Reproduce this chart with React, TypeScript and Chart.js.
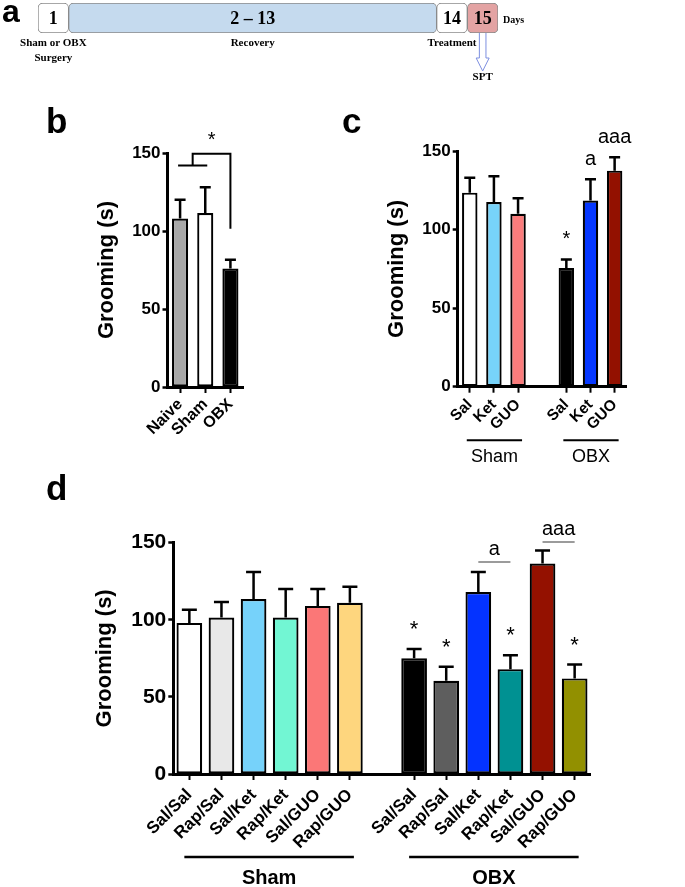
import React, { useEffect, useRef } from 'react';
import { Chart, registerables } from 'chart.js';

Chart.register(...registerables);

const SANS = "'Liberation Sans', Arial, sans-serif";
const SERIF = "'Liberation Serif', 'Times New Roman', serif";

// ---------- Panel a: timeline ----------
const phaseLabels = ['1', '2 – 13', '14', '15'];
const phaseStart = [0.5, 1.5, 13.5, 14.5];
const phaseEnd = [1.5, 13.5, 14.5, 15.5];
const phaseColors = ['#ffffff', '#c5daee', '#ffffff', '#e3a3a3'];
const phaseNotes: string[][] = [['Sham or OBX', 'Surgery'], ['Recovery'], ['Treatment'], []];
const sptDay = 15;
const sptLabel = 'SPT';
const daysLabel = 'Days';

// ---------- Panel b ----------
const bLabels = ['Naive', 'Sham', 'OBX'];
const bMeans = [108, 111.5, 76];
const bErrTop = [120, 128, 81.5];
const bColors = ['#a8a8a8', '#ffffff', '#000000'];
const bPairLevel = 142;
const bBracketTop = 149.5;
const bBracketDrop = 101.5;
const bBracketMark = '*';

// ---------- Panel c ----------
const cLabels = ['Sal', 'Ket', 'GUO', '', 'Sal', 'Ket', 'GUO'];
const cMeans = [123.5, 117.5, 110, null, 75.5, 118.5, 137.5];
const cErrTop = [133, 134, 120, null, 81, 132, 146];
const cColors = ['#ffffff', '#77d3fa', '#fb7c7c', '#000000', '#000000', '#0638ff', '#931100'];
const cMarks = ['', '', '', '', '*', 'a', 'aaa'];
const cGroupNames = ['Sham', 'OBX'];
const cGroupStart = [0, 4];
const cGroupEnd = [2, 6];

// ---------- Panel d ----------
const dLabels = ['Sal/Sal', 'Rap/Sal', 'Sal/Ket', 'Rap/Ket', 'Sal/GUO', 'Rap/GUO', '',
  'Sal/Sal', 'Rap/Sal', 'Sal/Ket', 'Rap/Ket', 'Sal/GUO', 'Rap/GUO'];
const dMeans = [98, 101.5, 113.5, 101.5, 109, 111, null, 75, 60.5, 118, 68, 136.5, 62];
const dErrTop = [106.5, 111.5, 131, 120, 120, 121.5, null, 81, 69.5, 131, 77, 145, 71];
const dColors = ['#ffffff', '#e8e8e8', '#76d2fa', '#72f6d3', '#fb7777', '#fed67e', '#000000',
  '#000000', '#5e5e5e', '#0433ff', '#009192', '#941100', '#929000'];
const dStars = ['', '', '', '', '', '', '', '*', '*', '', '*', '', '*'];
const dPairFrom = [9, 11];
const dPairTo = [10, 12];
const dPairLevel = [137.5, 150.5];
const dPairText = ['a', 'aaa'];
const dGroupNames = ['Sham', 'OBX'];
const dGroupStart = [0, 7];
const dGroupEnd = [5, 12];

const yTicks = [0, 50, 100, 150];
const yTitle = 'Grooming (s)';

type Box = { x: number; y: number; w: number; h: number };
type Area = { left: number; right: number; top: number; bottom: number };

interface BarPanel {
  box: Box;
  area: Area;
  titleX: number;
  labels: string[];
  means: (number | null)[];
  errTop: (number | null)[];
  colors: string[];
  yTickSize: number;
  xTickSize: number;
  xTickPad: number;
  barPct: number;
  capW: number;
  letter: string;
  letterPos: [number, number];
  extra?: (ctx: CanvasRenderingContext2D, px: (i: number) => number, py: (v: number) => number, chart: any) => void;
}

function buildBarChart(canvas: HTMLCanvasElement, p: BarPanel): Chart {
  const titleSize = 22;
  const lh = titleSize * 1.2;
  const padLeft = p.titleX - lh / 2 - p.box.x;
  const yWidth = p.area.left - p.box.x - padLeft;
  const padTop = p.area.top - p.box.y;
  const padRight = p.box.x + p.box.w - p.area.right;
  const xHeight = p.box.y + p.box.h - p.area.bottom;

  const annot = {
    id: 'annot',
    afterDatasetsDraw(chart: any) {
      const ctx: CanvasRenderingContext2D = chart.ctx;
      const xs = chart.scales.x;
      const ys = chart.scales.y;
      const px = (i: number) => xs.getPixelForValue(i);
      const py = (v: number) => ys.getPixelForValue(v);
      ctx.save();
      // error bars (upper)
      ctx.strokeStyle = '#000';
      ctx.lineWidth = 2.5;
      p.means.forEach((m, i) => {
        const e = p.errTop[i];
        if (m == null || e == null) return;
        const x = px(i);
        ctx.beginPath();
        ctx.moveTo(x, py(m));
        ctx.lineTo(x, py(e));
        ctx.moveTo(x - p.capW / 2, py(e));
        ctx.lineTo(x + p.capW / 2, py(e));
        ctx.stroke();
      });
      // panel letter
      ctx.fillStyle = '#000';
      ctx.font = `bold 35px ${SANS}`;
      ctx.textAlign = 'left';
      ctx.textBaseline = 'alphabetic';
      ctx.fillText(p.letter, p.letterPos[0] - p.box.x, p.letterPos[1] - p.box.y);
      if (p.extra) p.extra(ctx, px, py, chart);
      ctx.restore();
    },
  };

  return new Chart(canvas, {
    type: 'bar',
    data: {
      labels: p.labels,
      datasets: [
        {
          data: p.means as any,
          backgroundColor: p.colors,
          borderColor: '#000',
          borderWidth: 2.2,
          borderSkipped: false,
          barPercentage: p.barPct,
          categoryPercentage: 1,
        },
      ],
    },
    options: {
      responsive: false,
      animation: false,
      events: [],
      layout: { padding: { left: padLeft, top: padTop, right: padRight, bottom: 0 } },
      plugins: { legend: { display: false }, tooltip: { enabled: false } },
      scales: {
        x: {
          type: 'category',
          offset: true,
          grid: {
            display: true,
            drawOnChartArea: false,
            drawTicks: true,
            offset: false,
            tickLength: 6,
            tickWidth: 2,
            tickColor: (c: any) => (p.labels[c.index] === '' ? 'rgba(0,0,0,0)' : '#000'),
          },
          border: { display: true, color: '#000', width: 3 },
          ticks: {
            autoSkip: false,
            maxRotation: 45,
            minRotation: 45,
            padding: p.xTickPad,
            color: '#000',
            font: { family: SANS, size: p.xTickSize, weight: 'bold' },
          },
          afterFit: (s: any) => {
            s.height = xHeight;
          },
        },
        y: {
          min: 0,
          max: 150,
          afterBuildTicks: (s: any) => {
            s.ticks = yTicks.map((v) => ({ value: v }));
          },
          grid: {
            display: true,
            drawOnChartArea: false,
            drawTicks: true,
            tickLength: 5,
            tickWidth: 2.5,
            tickColor: '#000',
          },
          border: { display: true, color: '#000', width: 3 },
          ticks: {
            padding: 2,
            color: '#000',
            font: { family: SANS, size: p.yTickSize, weight: 'bold' },
          },
          title: {
            display: true,
            text: yTitle,
            color: '#000',
            padding: 0,
            font: { family: SANS, size: titleSize, weight: 'bold' },
          },
          afterFit: (s: any) => {
            s.width = yWidth;
          },
        },
      },
    } as any,
    plugins: [annot],
  });
}

function buildTimeline(canvas: HTMLCanvasElement): Chart {
  const plugin = {
    id: 'timelineText',
    afterDatasetsDraw(chart: any) {
      const ctx: CanvasRenderingContext2D = chart.ctx;
      const xs = chart.scales.x;
      const area = chart.chartArea;
      const midY = (area.top + area.bottom) / 2;
      ctx.save();
      ctx.fillStyle = '#000';
      ctx.textAlign = 'center';
      ctx.textBaseline = 'middle';
      ctx.font = `bold 18px ${SERIF}`;
      phaseLabels.forEach((t, i) => {
        ctx.fillText(t, xs.getPixelForValue((phaseStart[i] + phaseEnd[i]) / 2), midY + 1);
      });
      ctx.font = `bold 11px ${SERIF}`;
      phaseNotes.forEach((lines, i) => {
        const cx = xs.getPixelForValue((phaseStart[i] + phaseEnd[i]) / 2);
        lines.forEach((t, k) => ctx.fillText(t, cx, area.bottom + 10 + k * 15));
      });
      ctx.font = `bold 10px ${SERIF}`;
      ctx.textAlign = 'left';
      ctx.fillText(daysLabel, area.right + 5, midY + 2);
      // arrow to SPT
      const ax = xs.getPixelForValue(sptDay);
      const y0 = area.bottom;
      ctx.beginPath();
      ctx.moveTo(ax - 3.3, y0);
      ctx.lineTo(ax - 3.3, y0 + 25);
      ctx.lineTo(ax - 6.5, y0 + 25);
      ctx.lineTo(ax, y0 + 38);
      ctx.lineTo(ax + 6.5, y0 + 25);
      ctx.lineTo(ax + 3.3, y0 + 25);
      ctx.lineTo(ax + 3.3, y0);
      ctx.fillStyle = '#ffffff';
      ctx.fill();
      ctx.strokeStyle = '#7d8fe0';
      ctx.lineWidth = 1;
      ctx.stroke();
      ctx.fillStyle = '#000';
      ctx.textAlign = 'center';
      ctx.font = `bold 11px ${SERIF}`;
      ctx.fillText(sptLabel, ax, y0 + 44);
      // panel letter
      ctx.font = `bold 32px ${SANS}`;
      ctx.textAlign = 'left';
      ctx.textBaseline = 'alphabetic';
      ctx.fillText('a', 2, 22);
      ctx.restore();
    },
  };
  return new Chart(canvas, {
    type: 'bar',
    data: {
      labels: ['days'],
      datasets: [
        {
          data: phaseStart.map((s, i) => ({ x: [s, phaseEnd[i]], y: 'days' })) as any,
          backgroundColor: phaseColors,
          borderColor: '#8a8a8a',
          borderWidth: 1,
          borderRadius: 5,
          borderSkipped: false,
          barPercentage: 1,
          categoryPercentage: 1,
        },
      ],
    },
    options: {
      indexAxis: 'y',
      responsive: false,
      animation: false,
      events: [],
      layout: { padding: { left: 38, right: 187, top: 3, bottom: 57 } },
      plugins: { legend: { display: false }, tooltip: { enabled: false } },
      scales: {
        x: { type: 'linear', min: 0.5, max: 15.5, display: false },
        y: { type: 'category', display: false },
      },
    } as any,
    plugins: [plugin],
  });
}

const boxA: Box = { x: 0, y: 0, w: 685, h: 90 };
const boxB: Box = { x: 0, y: 90, w: 330, h: 380 };
const boxC: Box = { x: 330, y: 90, w: 355, h: 380 };
const boxD: Box = { x: 0, y: 470, w: 685, h: 417 };

export default function App() {
  const refA = useRef<HTMLCanvasElement>(null);
  const refB = useRef<HTMLCanvasElement>(null);
  const refC = useRef<HTMLCanvasElement>(null);
  const refD = useRef<HTMLCanvasElement>(null);

  useEffect(() => {
    const charts: Chart[] = [];
    charts.push(buildTimeline(refA.current!));

    charts.push(
      buildBarChart(refB.current!, {
        box: boxB,
        area: { left: 167.5, right: 243, top: 153, bottom: 387 },
        titleX: 106.5,
        labels: bLabels,
        means: bMeans,
        errTop: bErrTop,
        colors: bColors,
        yTickSize: 17,
        xTickSize: 16,
        xTickPad: 2,
        barPct: 0.64,
        capW: 11,
        letter: 'b',
        letterPos: [46, 133],
        extra: (ctx, px, py) => {
          ctx.strokeStyle = '#000';
          ctx.lineWidth = 2;
          ctx.beginPath();
          ctx.moveTo(px(0) - 2, py(bPairLevel));
          ctx.lineTo(px(1) + 2, py(bPairLevel));
          ctx.moveTo(px(0.5), py(bPairLevel));
          ctx.lineTo(px(0.5), py(bBracketTop));
          ctx.lineTo(px(2), py(bBracketTop));
          ctx.lineTo(px(2), py(bBracketDrop));
          ctx.stroke();
          ctx.fillStyle = '#000';
          ctx.font = `20px ${SANS}`;
          ctx.textAlign = 'center';
          ctx.textBaseline = 'alphabetic';
          ctx.fillText(bBracketMark, (px(0.5) + px(2)) / 2, py(bBracketTop) - 8);
        },
      })
    );

    charts.push(
      buildBarChart(refC.current!, {
        box: boxC,
        area: { left: 457.7, right: 626.7, top: 151, bottom: 386.7 },
        titleX: 396.7,
        labels: cLabels,
        means: cMeans,
        errTop: cErrTop,
        colors: cColors,
        yTickSize: 17,
        xTickSize: 15.5,
        xTickPad: 3,
        barPct: 0.64,
        capW: 11,
        letter: 'c',
        letterPos: [342, 133],
        extra: (ctx, px, py, chart) => {
          ctx.fillStyle = '#000';
          ctx.font = `20px ${SANS}`;
          ctx.textAlign = 'center';
          ctx.textBaseline = 'alphabetic';
          cMarks.forEach((m, i) => {
            const e = cErrTop[i];
            if (!m || e == null) return;
            ctx.fillText(m, px(i), py(e) - 14);
          });
          const bottom = chart.chartArea.bottom;
          ctx.strokeStyle = '#000';
          ctx.lineWidth = 2;
          ctx.font = `18px ${SANS}`;
          ctx.textBaseline = 'middle';
          cGroupNames.forEach((g, k) => {
            const x0 = px(cGroupStart[k]) - 3;
            const x1 = px(cGroupEnd[k]) + 4;
            ctx.beginPath();
            ctx.moveTo(x0, bottom + 53.5);
            ctx.lineTo(x1, bottom + 53.5);
            ctx.stroke();
            ctx.fillText(g, (x0 + x1) / 2, bottom + 70);
          });
        },
      })
    );

    charts.push(
      buildBarChart(refD.current!, {
        box: boxD,
        area: { left: 173.3, right: 590.7, top: 542.7, bottom: 774 },
        titleX: 105,
        labels: dLabels,
        means: dMeans,
        errTop: dErrTop,
        colors: dColors,
        yTickSize: 21,
        xTickSize: 17,
        xTickPad: 5,
        barPct: 0.8,
        capW: 15,
        letter: 'd',
        letterPos: [46, 500],
        extra: (ctx, px, py, chart) => {
          ctx.fillStyle = '#000';
          ctx.textAlign = 'center';
          ctx.textBaseline = 'alphabetic';
          ctx.font = `22px ${SANS}`;
          dStars.forEach((m, i) => {
            const e = dErrTop[i];
            if (!m || e == null) return;
            ctx.fillText(m, px(i), py(e) - 13);
          });
          ctx.font = `20px ${SANS}`;
          ctx.strokeStyle = '#7a7a7a';
          ctx.lineWidth = 1.5;
          dPairText.forEach((t, k) => {
            const x0 = px(dPairFrom[k]);
            const x1 = px(dPairTo[k]);
            const y = py(dPairLevel[k]);
            ctx.beginPath();
            ctx.moveTo(x0, y);
            ctx.lineTo(x1, y);
            ctx.stroke();
            ctx.fillText(t, (x0 + x1) / 2, y - 7);
          });
          const bottom = chart.chartArea.bottom;
          ctx.strokeStyle = '#000';
          ctx.lineWidth = 2.5;
          ctx.font = `bold 20px ${SANS}`;
          ctx.textBaseline = 'middle';
          dGroupNames.forEach((g, k) => {
            const x0 = px(dGroupStart[k]) - 5;
            const x1 = px(dGroupEnd[k]) + 4;
            ctx.beginPath();
            ctx.moveTo(x0, bottom + 83);
            ctx.lineTo(x1, bottom + 83);
            ctx.stroke();
            ctx.fillText(g, (x0 + x1) / 2, bottom + 104);
          });
        },
      })
    );

    return () => charts.forEach((c) => c.destroy());
  }, []);

  const style = (b: Box): React.CSSProperties => ({
    position: 'absolute',
    left: b.x,
    top: b.y,
    width: b.w,
    height: b.h,
  });

  return (
    <div style={{ position: 'absolute', left: 0, top: 0, width: 685, height: 887, background: '#fff', overflow: 'hidden' }}>
      <canvas ref={refA} width={boxA.w} height={boxA.h} style={style(boxA)} />
      <canvas ref={refB} width={boxB.w} height={boxB.h} style={style(boxB)} />
      <canvas ref={refC} width={boxC.w} height={boxC.h} style={style(boxC)} />
      <canvas ref={refD} width={boxD.w} height={boxD.h} style={style(boxD)} />
    </div>
  );
}
